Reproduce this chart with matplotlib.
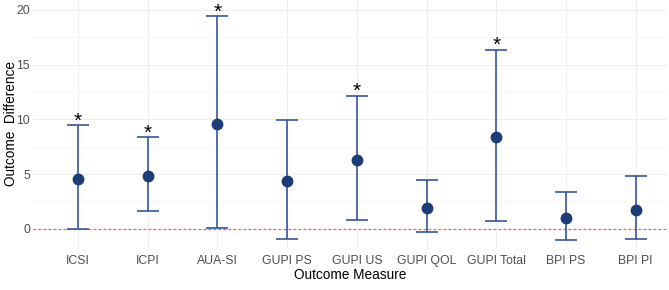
import matplotlib.pyplot as plt

plt.rcParams['font.family'] = ['Liberation Sans', 'DejaVu Sans']

measures = ["ICSI", "ICPI", "AUA-SI", "GUPI PS", "GUPI US", "GUPI QOL",
            "GUPI Total", "BPI PS", "BPI PI"]
estimate = [4.55, 4.8, 9.6, 4.35, 6.3, 1.9, 8.4, 1.0, 1.75]
lower = [0.0, 1.6, 0.1, -0.9, 0.8, -0.3, 0.75, -1.0, -0.9]
upper = [9.45, 8.35, 19.45, 9.95, 12.15, 4.45, 16.35, 3.35, 4.8]
significant = [True, True, True, False, True, False, True, False, False]

fig = plt.figure(figsize=(6.69, 2.90), dpi=100)
ax = fig.add_axes([0.049, 0.145, 0.948, 0.855])

x = list(range(len(measures)))
yerr = [[e - l for e, l in zip(estimate, lower)],
        [u - e for e, u in zip(estimate, upper)]]

ax.axhline(0, color="#ff5a5a", linestyle=(0, (2.2, 1.8)), linewidth=0.9, zorder=1.5)
ax.errorbar(x, estimate, yerr=yerr, fmt="none", ecolor="#34579a",
            elinewidth=1.2, capsize=8, capthick=1.2, zorder=2)
ax.plot(x, estimate, "o", color="#1c3c78", markersize=7.5, zorder=3)

for xi, u, s in zip(x, upper, significant):
    if s:
        ax.text(xi, u - 0.5, "*", ha="center", va="bottom", fontsize=15,
                color="black")

ax.set_xlim(-0.65, 8.45)
ax.set_ylim(-1.75, 20.9)
ax.set_xticks(x)
ax.set_xticklabels(measures)
ax.set_yticks([0, 5, 10, 15, 20])
ax.set_yticks([2.5, 7.5, 12.5, 17.5], minor=True)

ax.grid(True, which="major", color="#ebebeb", linewidth=0.6)
ax.grid(True, which="minor", axis="y", color="#f4f4f4", linewidth=0.5)
ax.set_axisbelow(True)
for s in ax.spines.values():
    s.set_visible(False)
ax.tick_params(length=0, labelsize=8.8, labelcolor="#4d4d4d")
ax.tick_params(axis="x", pad=5)
ax.tick_params(axis="y", pad=2)
ax.tick_params(which="minor", length=0)

ax.set_xlabel("Outcome Measure", fontsize=9.8, labelpad=1)
ax.set_ylabel("Outcome  Difference", fontsize=9.8)
ax.yaxis.set_label_coords(-0.024, 0.5)

fig.savefig("out.png", dpi=100)
